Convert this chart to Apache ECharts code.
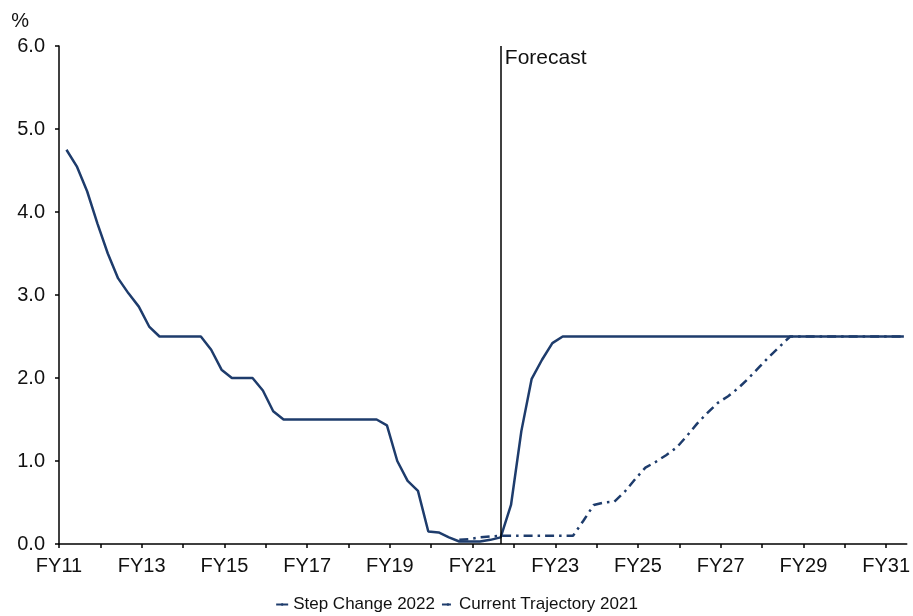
<!DOCTYPE html>
<html>
<head>
<meta charset="utf-8">
<script src="https://cdn.jsdelivr.net/npm/echarts@6/dist/echarts.min.js"></script>
<style>
  html, body { margin: 0; padding: 0; background: #fff; }
  #chart { width: 913px; height: 616px; }
</style>
</head>
<body>
<div id="chart"></div>
<script>
// Quarterly observations, first quarter of FY11 onwards (82 quarters)
const FIRST_X = 2011.18;        // position of first quarter on the year axis
const QUARTER = 0.25;
const FORECAST_INDEX = 42;      // quarter where the forecast begins

const yearTicks = [2011,2012,2013,2014,2015,2016,2017,2018,2019,2020,2021,2022,2023,2024,2025,2026,2027,2028,2029,2030,2031];
const yearLabels = [2011,2013,2015,2017,2019,2021,2023,2025,2027,2029,2031];

const stepChange2022 = [
  4.75, 4.55, 4.25, 3.86, 3.50, 3.20, 3.02, 2.86, 2.62, 2.50,
  2.50, 2.50, 2.50, 2.50, 2.34, 2.10, 2.00, 2.00, 2.00, 1.85,
  1.60, 1.50, 1.50, 1.50, 1.50, 1.50, 1.50, 1.50, 1.50, 1.50,
  1.50, 1.43, 1.00, 0.76, 0.64, 0.15, 0.14, 0.08, 0.03, 0.03,
  0.03, 0.05, 0.08, 0.47, 1.36, 1.99, 2.22, 2.42, 2.50, 2.50,
  2.50, 2.50, 2.50, 2.50, 2.50, 2.50, 2.50, 2.50, 2.50, 2.50,
  2.50, 2.50, 2.50, 2.50, 2.50, 2.50, 2.50, 2.50, 2.50, 2.50,
  2.50, 2.50, 2.50, 2.50, 2.50, 2.50, 2.50, 2.50, 2.50, 2.50,
  2.50, 2.50
];

const currentTrajectory2021 = [
  null, null, null, null, null, null, null, null, null, null,
  null, null, null, null, null, null, null, null, null, null,
  null, null, null, null, null, null, null, null, null, null,
  null, null, null, null, null, null, null, null, 0.05, 0.06,
  0.08, 0.09, 0.10, 0.10, 0.10, 0.10, 0.10, 0.10, 0.10, 0.10,
  0.28, 0.47, 0.50, 0.51, 0.63, 0.78, 0.92, 0.99, 1.07, 1.16,
  1.30, 1.45, 1.58, 1.70, 1.78, 1.88, 2.00, 2.13, 2.26, 2.38,
  2.50, 2.50, 2.50, 2.50, 2.50, 2.50, 2.50, 2.50, 2.50, 2.50,
  2.50, 2.50
];

const seriesNames = ['Step Change 2022', 'Current Trajectory 2021'];

function toPairs(arr) {
  return arr.map((v, i) => [FIRST_X + i * QUARTER, v]);
}

const FONT = 'Arial, "Liberation Sans", sans-serif';
const NAVY = '#1e3c6c';

const chart = echarts.init(document.getElementById('chart'), null, { renderer: 'canvas' });

chart.setOption({
  animation: false,
  backgroundColor: '#fff',
  grid: { left: 59, right: 3, top: 46, bottom: 72, containLabel: false },
  legend: {
    bottom: 3,
    left: 'center',
    padding: 0,
    itemWidth: 12,
    itemHeight: 3,
    itemGap: 6,
    textStyle: { fontFamily: FONT, fontSize: 17, color: '#111' },
    data: seriesNames
  },
  xAxis: {
    type: 'value',
    min: 2011,
    max: 2031.5,
    splitLine: { show: false },
    axisLine: { show: true, onZero: false, lineStyle: { color: '#000', width: 1.5 } },
    axisTick: { show: true, customValues: yearTicks, length: 4, lineStyle: { color: '#000', width: 1.5 } },
    axisLabel: {
      customValues: yearLabels,
      margin: 12,
      fontFamily: FONT,
      fontSize: 20,
      color: '#111',
      formatter: v => 'FY' + String(Math.round(v) % 100).padStart(2, '0')
    }
  },
  yAxis: {
    type: 'value',
    min: 0,
    max: 6,
    interval: 1,
    name: '%',
    nameLocation: 'end',
    nameGap: 15,
    nameTextStyle: { fontFamily: FONT, fontSize: 20, color: '#111', align: 'right', padding: [0, 30, 0, 0] },
    splitLine: { show: false },
    axisLine: { show: true, lineStyle: { color: '#000', width: 1.5 } },
    axisTick: { show: true, length: 4, lineStyle: { color: '#000', width: 1.5 } },
    axisLabel: {
      margin: 14,
      fontFamily: FONT,
      fontSize: 20,
      color: '#111',
      formatter: v => v.toFixed(1)
    }
  },
  series: [
    {
      name: seriesNames[1],
      type: 'line',
      data: toPairs(currentTrajectory2021),
      symbol: 'none',
      connectNulls: false,
      z: 2,
      lineStyle: { color: NAVY, width: 2.5, type: [9, 5, 2.5, 5] },
      itemStyle: { color: NAVY }
    },
    {
      name: seriesNames[0],
      type: 'line',
      data: toPairs(stepChange2022),
      symbol: 'none',
      z: 3,
      lineStyle: { color: NAVY, width: 2.5 },
      itemStyle: { color: NAVY },
      markLine: {
        silent: true,
        symbol: 'none',
        lineStyle: { color: '#000', width: 1.5, type: 'solid' },
        data: [{ xAxis: FIRST_X + FORECAST_INDEX * QUARTER }],
        label: {
          show: true,
          position: 'end',
          formatter: 'Forecast',
          fontFamily: FONT,
          fontSize: 21,
          color: '#111',
          offset: [45, 28]
        }
      }
    }
  ]
});
</script>
</body>
</html>
